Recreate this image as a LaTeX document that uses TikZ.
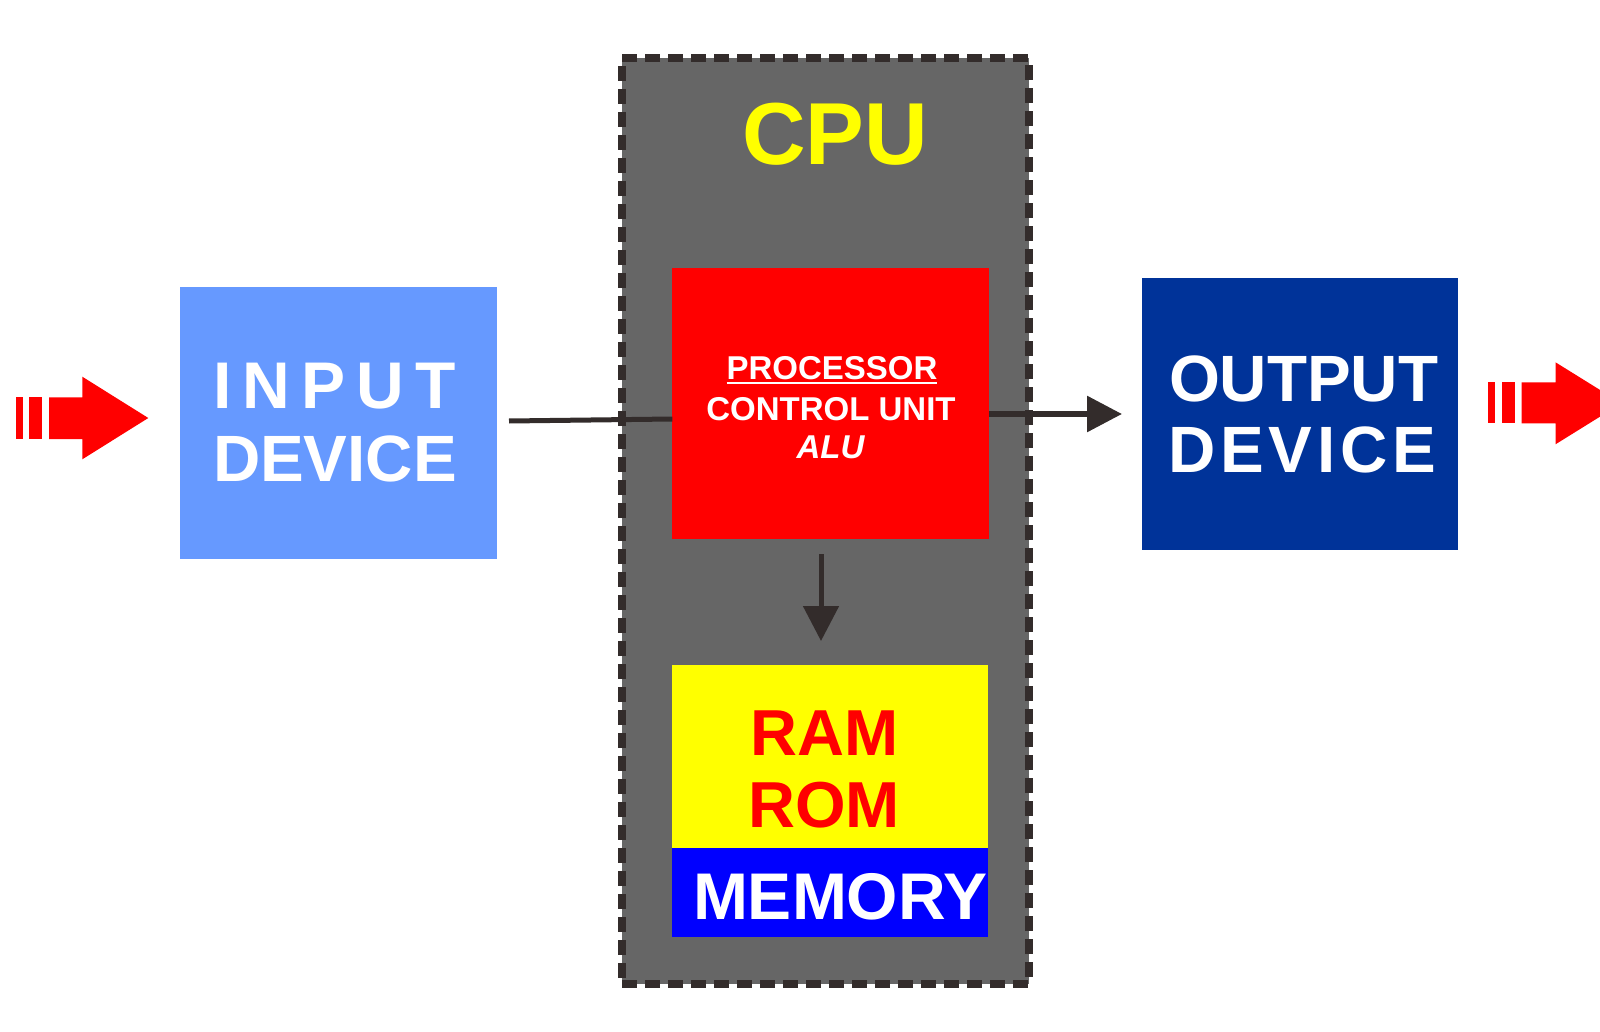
\documentclass[tikz,border=0pt]{standalone}
\usepackage{fontspec}
\setmainfont{Liberation Sans}
\usetikzlibrary{arrows.meta}
\definecolor{inblue}{HTML}{6699FF}
\definecolor{outblue}{HTML}{003399}
\definecolor{cpugray}{HTML}{666666}
\definecolor{linedark}{HTML}{332C2B}
\definecolor{procred}{HTML}{FF0000}
\definecolor{memyellow}{HTML}{FFFF00}
\definecolor{memblue}{HTML}{0000FF}
\newcommand\setfs[1]{\fontsize{#1}{#1}\selectfont\bfseries}
\begin{document}
\begin{tikzpicture}[x=1pt,y=-1pt,
  box/.style={rectangle,inner sep=0pt,outer sep=0pt,draw=none},
  txt/.style={inner sep=0pt,outer sep=0pt,text=white},
  conn/.style={draw=linedark,line width=5pt},
  tipconn/.style={conn,-{Triangle[length=35pt,width=35pt]}},
  bigarrow/.style={fill=procred}]
\useasboundingbox (0,0) rectangle (1600,1032);
\clip (0,0) rectangle (1600,1032);

% CPU frame
\node[box,fill=cpugray,draw=linedark,line width=8.5pt,dash pattern=on 15pt off 8pt,
  minimum width=407pt,minimum height=926pt] (cpu) at (825.5,521) {};
\node[txt,text=memyellow,anchor=base] (cputxt) at (835,165) {\setfs{88}CPU};

% input / output devices
\node[box,fill=inblue,minimum width=316.7pt,minimum height=272.6pt] (in) at (338.4,423) {};
\node[txt,anchor=base west] (in1) at (213,408.3) {\setfs{66}I\kern11.3pt N\kern11.3pt P\kern11.3pt U\kern11.3pt T};
\node[txt,anchor=base west] (in2) at (213,481) {\setfs{65.5}DEVICE};

\node[box,fill=outblue,minimum width=316pt,minimum height=271.7pt] (out) at (1300.3,414.2) {};
\node[txt,anchor=base west] (out1) at (1169,401.5) {\setfs{65.5}OUTPUT};
\node[txt,anchor=base west] (out2) at (1168,472) {\setfs{65.5}D\kern4.8pt E\kern4.8pt V\kern4.8pt I\kern4.8pt C\kern4.8pt E};

% processor
\node[box,fill=procred,minimum width=316.7pt,minimum height=271.6pt] (proc) at (830.7,403.5) {};
\node[txt,anchor=base] (p1) at (832,379) {\setfs{33}PROCESSOR};
\draw[white,line width=2pt] ([yshift=-3.5pt]p1.base west) -- ([yshift=-3.5pt]p1.base east);
\node[txt,anchor=base] (p2) at (831,420) {\setfs{33}CONTROL UNIT};
\node[txt,anchor=base] (p3) at (830.5,458) {\setfs{33}\itshape ALU};

% memory
\node[box,fill=memyellow,minimum width=316.6pt,minimum height=183.3pt] (ram) at (830,756.7) {};
\node[box,fill=memblue,minimum width=316.6pt,minimum height=88.4pt] (mem) at (830,892.5) {};
\node[txt,text=procred,anchor=base] (r1) at (825,755.7) {\setfs{65}RAM};
\node[txt,text=procred,anchor=base] (r2) at (824,827) {\setfs{65}ROM};
\node[txt,anchor=base west] (m1) at (693,919) {\setfs{66}MEMORY};

% connectors
\coordinate (inA) at (509,421);
\coordinate (procIn) at (673,419);
\coordinate (outTip) at (1122,414);
\coordinate (dnA) at (821,554);
\coordinate (dnB) at (821,641);
\draw[conn] (inA) -- (proc.west |- procIn);
\draw[tipconn,line width=6pt] (proc.east |- outTip) -- (outTip);
\draw[tipconn] (dnA) -- (dnB);

% block arrows
\fill[bigarrow] (15.7,397.3) rectangle (22.7,439);
\fill[bigarrow] (29,397.3) rectangle (42.3,439);
\fill[bigarrow] (49,397.3) -- (82.3,397.3) -- (82.3,376.7) -- (148.3,418) -- (82.3,459.3) -- (82.3,439) -- (49,439) -- cycle;
\fill[bigarrow] (1488.3,382.3) rectangle (1495,423.3);
\fill[bigarrow] (1501.7,382.3) rectangle (1515,423.3);
\fill[bigarrow] (1521.7,382.3) -- (1555.5,382.3) -- (1555.5,362.3) -- (1621.5,403.3) -- (1555.5,444.3) -- (1555.5,423.3) -- (1521.7,423.3) -- cycle;
\end{tikzpicture}
\end{document}
